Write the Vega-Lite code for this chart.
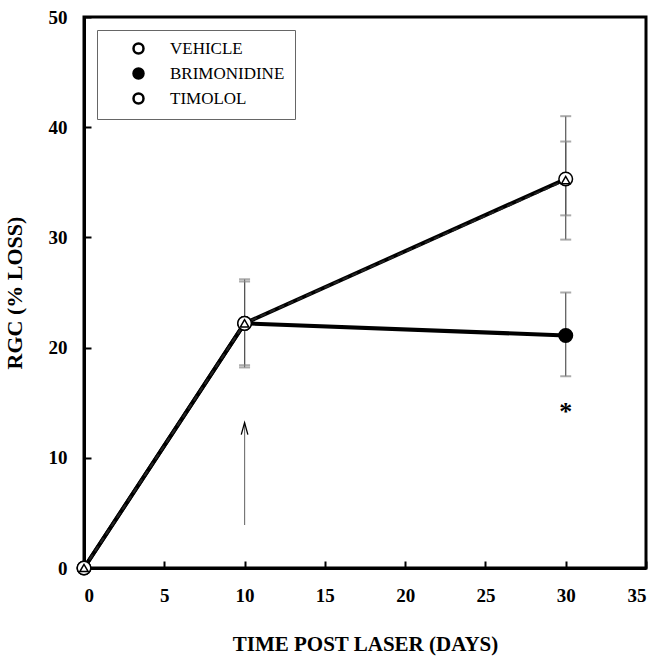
{
  "$schema": "https://vega.github.io/schema/vega-lite/v6.json",
  "width": 562,
  "height": 551,
  "autosize": {"type": "none"},
  "padding": {"left": 84, "top": 17, "right": 4, "bottom": 92},
  "background": "white",
  "config": {
    "view": {"stroke": "black", "strokeWidth": 3},
    "axis": {
      "grid": false,
      "domainColor": "black",
      "domainWidth": 3,
      "tickColor": "black",
      "tickWidth": 2,
      "tickSize": -7,
      "labelFont": "Liberation Serif",
      "labelFontWeight": "bold",
      "labelFontSize": 19,
      "labelColor": "black",
      "titleFont": "Liberation Serif",
      "titleFontWeight": "bold",
      "titleColor": "black"
    },
    "legend": {
      "symbolSize": 100,
      "symbolStrokeWidth": 2.5,
      "symbolOffset": 23,
      "labelOffset": 23,
      "labelFont": "Liberation Serif",
      "labelFontSize": 17,
      "labelColor": "black",
      "padding": 10,
      "rowPadding": 4,
      "strokeColor": "#666",
      "fillColor": "white"
    }
  },
  "datasets": {
    "means": [
      {"series": "BRIMONIDINE", "day": 0, "rgc": 0},
      {"series": "BRIMONIDINE", "day": 10, "rgc": 22.2},
      {"series": "BRIMONIDINE", "day": 30, "rgc": 21.1},
      {"series": "VEHICLE", "day": 0, "rgc": 0},
      {"series": "VEHICLE", "day": 10, "rgc": 22.2},
      {"series": "VEHICLE", "day": 30, "rgc": 35.3},
      {"series": "TIMOLOL", "day": 0, "rgc": 0},
      {"series": "TIMOLOL", "day": 10, "rgc": 22.2},
      {"series": "TIMOLOL", "day": 30, "rgc": 35.2}
    ],
    "errs": [
      {"series": "VEHICLE", "day": 10, "lo": 18.2, "hi": 26.2},
      {"series": "TIMOLOL", "day": 10, "lo": 18.4, "hi": 26.0},
      {"series": "VEHICLE", "day": 30, "lo": 29.8, "hi": 41.0},
      {"series": "TIMOLOL", "day": 30, "lo": 32.0, "hi": 38.7},
      {"series": "BRIMONIDINE", "day": 30, "lo": 17.4, "hi": 25.0}
    ],
    "arrow": [{"day": 10, "from": 3.9, "to": 13.2, "head": 12.65}],
    "star": [{"day": 30, "y": 14.5, "label": "*"}]
  },
  "layer": [
    {
      "data": {"name": "errs"},
      "mark": {"type": "rule", "color": "#555", "strokeWidth": 1.2},
      "encoding": {
        "x": {"field": "day", "type": "quantitative", "scale": {"domain": [0, 35], "nice": false}, "axis": {"values": [0, 5, 10, 15, 20, 25, 30, 35], "labelPadding": 25, "titlePadding": 28, "titleFontSize": 21}, "title": "TIME POST LASER (DAYS)"},
        "y": {"field": "lo", "type": "quantitative", "scale": {"domain": [0, 50], "nice": false}, "axis": {"values": [0, 10, 20, 30, 40, 50], "labelPadding": 24, "titlePadding": 22, "titleFontSize": 22}, "title": "RGC (% LOSS)"},
        "y2": {"field": "hi"}
      }
    },
    {
      "data": {"name": "errs"},
      "mark": {"type": "tick", "color": "#888", "thickness": 2, "size": 11, "orient": "horizontal"},
      "encoding": {
        "x": {"field": "day", "type": "quantitative", "title": "TIME POST LASER (DAYS)"},
        "y": {"field": "lo", "type": "quantitative", "title": "RGC (% LOSS)"}
      }
    },
    {
      "data": {"name": "errs"},
      "mark": {"type": "tick", "color": "#888", "thickness": 2, "size": 11, "orient": "horizontal"},
      "encoding": {
        "x": {"field": "day", "type": "quantitative", "title": "TIME POST LASER (DAYS)"},
        "y": {"field": "hi", "type": "quantitative", "title": "RGC (% LOSS)"}
      }
    },
    {
      "data": {"name": "arrow"},
      "mark": {"type": "rule", "color": "#777", "strokeWidth": 1.2},
      "encoding": {
        "x": {"field": "day", "type": "quantitative", "title": "TIME POST LASER (DAYS)"},
        "y": {"field": "from", "type": "quantitative", "title": "RGC (% LOSS)"},
        "y2": {"field": "to"}
      }
    },
    {
      "data": {"name": "arrow"},
      "mark": {"type": "point", "shape": "M-0.55,1L0,-1L0.55,1", "filled": false, "stroke": "black", "strokeWidth": 1.3, "size": 144, "opacity": 1},
      "encoding": {
        "x": {"field": "day", "type": "quantitative", "title": "TIME POST LASER (DAYS)"},
        "y": {"field": "head", "type": "quantitative", "title": "RGC (% LOSS)"}
      }
    },
    {
      "data": {"name": "star"},
      "mark": {"type": "text", "font": "Liberation Serif", "fontSize": 26, "fontWeight": "bold", "baseline": "middle", "dy": 4, "color": "black"},
      "encoding": {
        "x": {"field": "day", "type": "quantitative", "title": "TIME POST LASER (DAYS)"},
        "y": {"field": "y", "type": "quantitative", "title": "RGC (% LOSS)"},
        "text": {"field": "label"}
      }
    },
    {
      "data": {"name": "means"},
      "transform": [{"filter": "datum.series !== 'TIMOLOL'"}],
      "mark": {"type": "line", "color": "black", "strokeWidth": 4},
      "encoding": {
        "x": {"field": "day", "type": "quantitative", "title": "TIME POST LASER (DAYS)"},
        "y": {"field": "rgc", "type": "quantitative", "title": "RGC (% LOSS)"},
        "detail": {"field": "series"}
      }
    },
    {
      "data": {"name": "means"},
      "transform": [{"filter": "datum.series === 'TIMOLOL'"}],
      "mark": {"type": "line", "color": "#222", "strokeWidth": 2, "strokeDash": [6, 4]},
      "encoding": {
        "x": {"field": "day", "type": "quantitative", "title": "TIME POST LASER (DAYS)"},
        "y": {"field": "rgc", "type": "quantitative", "title": "RGC (% LOSS)"}
      }
    },
    {
      "data": {"name": "means"},
      "transform": [{"filter": "datum.series !== 'TIMOLOL'"}],
      "mark": {"type": "point", "shape": "circle", "filled": true, "stroke": "black", "strokeWidth": 1.5, "opacity": 1, "size": 185},
      "encoding": {
        "x": {"field": "day", "type": "quantitative", "title": "TIME POST LASER (DAYS)"},
        "y": {"field": "rgc", "type": "quantitative", "title": "RGC (% LOSS)"},
        "fill": {
          "field": "series",
          "type": "nominal",
          "scale": {"domain": ["VEHICLE", "BRIMONIDINE", "TIMOLOL"], "range": ["white", "black", "white"]},
          "legend": {"title": null, "orient": "top-left", "offset": 13}
        }
      }
    },
    {
      "data": {"name": "means"},
      "transform": [{"filter": "datum.series === 'TIMOLOL'"}],
      "mark": {"type": "point", "shape": "triangle-up", "filled": true, "fill": "white", "stroke": "black", "strokeWidth": 1.5, "opacity": 1, "size": 70},
      "encoding": {
        "x": {"field": "day", "type": "quantitative", "title": "TIME POST LASER (DAYS)"},
        "y": {"field": "rgc", "type": "quantitative", "title": "RGC (% LOSS)"}
      }
    }
  ]
}
